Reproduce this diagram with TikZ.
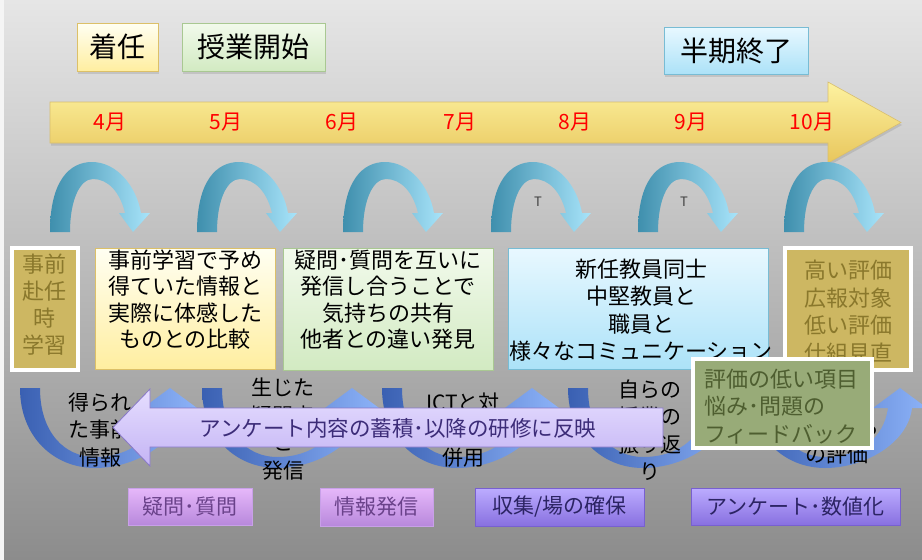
\documentclass[tikz,border=0pt]{standalone}
\usepackage{fontspec}
\setmainfont{Noto Sans CJK JP}
\usetikzlibrary{shadows}
\newcommand\myfs[2]{\fontsize{#1}{#2}\selectfont}
\definecolor{bgtop}{HTML}{E6E6E6}
\definecolor{bgbot}{HTML}{8C8C8C}
\definecolor{uaL}{HTML}{3F8FAD}
\definecolor{uaR}{HTML}{A8E4FA}
\definecolor{laL}{HTML}{3A60B2}
\definecolor{laR}{HTML}{8CB2F8}
\definecolor{khaki}{HTML}{CDB762}
\definecolor{khakitxt}{HTML}{8A782C}
\definecolor{sage}{HTML}{98AB78}
\definecolor{sagetxt}{HTML}{4E5E30}
\definecolor{monred}{HTML}{FF0000}
\tikzset{
  shd/.style={drop shadow={opacity=0.25,shadow xshift=1pt,shadow yshift=-2.5pt}},
  toplbl/.style={inner sep=0pt, font=\myfs{28}{30}, text=black, line width=0.8pt, shd},
  yel/.style={top color=yellow!5!white, bottom color={rgb,255:red,255;green,238;blue,160}, draw={rgb,255:red,220;green,192;blue,104}},
  grn/.style={top color={rgb,255:red,242;green,250;blue,236}, bottom color={rgb,255:red,210;green,234;blue,194}, draw={rgb,255:red,169;green,200;blue,146}},
  cyn/.style={top color={rgb,255:red,232;green,248;blue,255}, bottom color={rgb,255:red,172;green,226;blue,248}, draw={rgb,255:red,120;green,188;blue,212}},
  bigbox/.style={inner sep=0pt, line width=0.8pt},
  kbox/.style={inner sep=0pt, fill=khaki, draw=white, line width=4pt},
  boxtxt/.style={inner sep=0pt, align=center, font=\myfs{22}{26.5}, text=black},
  utxt/.style={inner sep=0pt, align=center, font=\myfs{21}{27.5}, text=black},
  month/.style={inner sep=0pt, font=\myfs{21}{24}, text=monred},
  mauve/.style={inner sep=0pt, font=\myfs{21}{24}, text={rgb,255:red,106;green,66;blue,138},
    top color={rgb,255:red,230;green,184;blue,250}, bottom color={rgb,255:red,184;green,136;blue,220},
    draw={rgb,255:red,200;green,160;blue,232}, line width=0.8pt},
  violet/.style={inner sep=0pt, font=\myfs{21}{24}, text={rgb,255:red,44;green,36;blue,100},
    top color={rgb,255:red,188;green,172;blue,255}, bottom color={rgb,255:red,136;green,112;blue,224},
    draw={rgb,255:red,120;green,96;blue,208}, line width=0.8pt},
  uparc/.pic={\shade[left color=uaL, right color=uaR] (0,0) .. controls (0,-52) and (20,-70) .. (42,-70) .. controls (66,-70) and (86,-47) .. (91,-19) -- (100,-19) -- (83,0) -- (69,-19) -- (75,-19) .. controls (70,-40) and (58,-53) .. (43,-53) .. controls (30,-53) and (20,-32) .. (20,0) -- cycle;},
  lowarc/.pic={\shade[left color=laL, right color=laR] (0,0) .. controls (0,50) and (35,80) .. (75,80) .. controls (115,80) and (158,55) .. (162,20) -- (177,20) -- (150,0) -- (123,20) -- (138,20) .. controls (134,50) and (110,69) .. (75,69) .. controls (45,69) and (20,45) .. (20,0) -- cycle;},
}
\begin{document}
\begin{tikzpicture}[x=1pt,y=-1pt]
\useasboundingbox (0,0) rectangle (922,560);
% background
\shade[top color=bgtop, bottom color=bgbot] (0,0) rectangle (922,560);
\fill[white!92!gray] (0,0) rectangle (4,560);

% top labels
\node[toplbl, yel, minimum width=81pt, minimum height=48pt] (chakunin) at (117.5,47) {着任};
\node[toplbl, grn, minimum width=143pt, minimum height=48pt] (jugyo) at (253.5,47) {授業開始};
\node[toplbl, cyn, minimum width=144pt, minimum height=47pt] (hanki) at (736,50.5) {半期終了};

% timeline arrow
\shade[shd, top color={rgb,255:red,253;green,242;blue,160}, bottom color={rgb,255:red,232;green,198;blue,92},
  draw={rgb,255:red,216;green,190;blue,110}, line width=0.6pt]
  (50,102) -- (828,102) -- (828,82) -- (901,122.5) -- (828,163) -- (828,143) -- (50,143) -- cycle;
\node[month] (m4) at (110,122) {4月};
\node[month] (m5) at (226,122) {5月};
\node[month] (m6) at (342,122) {6月};
\node[month] (m7) at (460,122) {7月};
\node[month] (m8) at (575,122) {8月};
\node[month] (m9) at (691,122) {9月};
\node[month] (m10) at (812,122) {10月};

% upper arcs
\foreach \xx in {50,197,343,491,638,784} \pic at (\xx,232) {uparc};
\node[inner sep=0pt, font=\myfs{13}{14}, text=black!75] (t1) at (538,202) {T};
\node[inner sep=0pt, font=\myfs{13}{14}, text=black!75] (t2) at (684,202) {T};

% main boxes
\node[kbox, minimum width=66pt, minimum height=122pt] (b1) at (45,309) {};
\node[boxtxt, text=khakitxt, font=\myfs{22}{27}] (b1t) at (45,305) {事前\\赴任\\時\\学習};
\node[bigbox, yel, minimum width=180pt, minimum height=121pt] (b2) at (185,308.5) {};
\node[boxtxt] (b2t) at (185,299.5) {事前学習で予め\\得ていた情報と\\実際に体感した\\ものとの比較};
\node[bigbox, grn, minimum width=210pt, minimum height=122pt] (b3) at (388,309) {};
\node[boxtxt] (b3t) at (388,299.5) {疑問･質問を互いに\\発信し合うことで\\気持ちの共有\\他者との違い発見};
\node[bigbox, cyn, minimum width=260pt, minimum height=121pt] (b4) at (638,308.5) {};
\node[boxtxt, font=\myfs{22}{27.5}] (b4t) at (641,310) {新任教員同士\\中堅教員と\\職員と\\様々なコミュニケーション};
\node[kbox, minimum width=126pt, minimum height=122pt] (b5) at (848,309) {};
\node[boxtxt, text=khakitxt, font=\myfs{22}{27.7}] (b5t) at (848,311.5) {高い評価\\広報対象\\低い評価\\仕組見直};

% lower arcs
\foreach \xx in {20,202,382,568,750} \pic at (\xx,388) {lowarc};
\node[utxt] (u1) at (100,430) {得られ\\た事前\\情報};
\node[utxt] (u2) at (283,429) {生じた\\疑問点\\と\\発信};
\node[utxt] (u3) at (463,430) {ICTと対\\面の\\併用};
\node[utxt] (u4) at (650,430) {自らの\\授業の\\振り返\\り};
\node[utxt] (u5) at (837,441) {他者から\\の評価};

% feedback arrow
\shade[top color={rgb,255:red,230;green,222;blue,255}, bottom color={rgb,255:red,196;green,180;blue,244},
  draw={rgb,255:red,136;green,120;blue,200}, line width=0.8pt]
  (663,408) -- (150,408) -- (150,389) -- (113,427.5) -- (150,466) -- (150,447) -- (663,447) -- cycle;
\node[inner sep=0pt, font=\myfs{21.5}{24}, text={rgb,255:red,60;green,44;blue,120}] (fb) at (398,428) {アンケート内容の蓄積･以降の研修に反映};

% green box
\node[inner sep=0pt, fill=sage, draw=white, line width=4pt, minimum width=179pt, minimum height=89pt] (g) at (782.5,403.5) {};
\node[inner sep=0pt, align=left, font=\myfs{22}{27.5}, text=sagetxt, anchor=west] (gt) at (704,406.5) {評価の低い項目\\悩み･問題の\\フィードバック};

% bottom labels
\node[mauve, minimum width=124pt, minimum height=37pt] (l1) at (190,506.5) {疑問･質問};
\node[mauve, minimum width=113pt, minimum height=38pt] (l2) at (376.5,507) {情報発信};
\node[violet, minimum width=169pt, minimum height=38pt] (l3) at (559.5,507) {収集/場の確保};
\node[violet, minimum width=209pt, minimum height=37pt] (l4) at (795.5,506.5) {アンケート･数値化};
\end{tikzpicture}
\end{document}
